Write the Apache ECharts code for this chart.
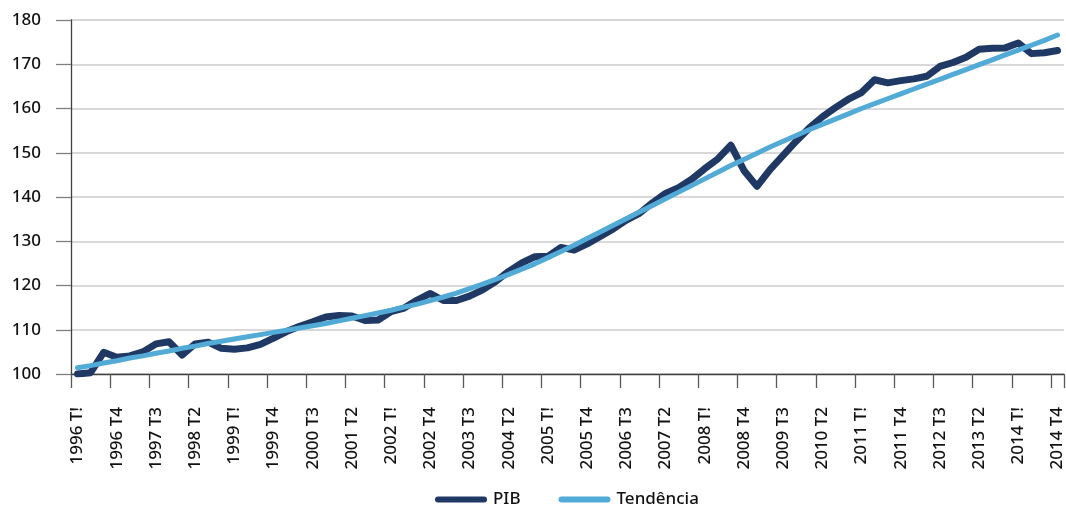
<!DOCTYPE html>
<html>
<head>
<meta charset="utf-8">
<script src="https://cdn.jsdelivr.net/npm/echarts@6/dist/echarts.min.js"></script>
<style>
  html, body { margin: 0; padding: 0; background: #ffffff; }
  #chart { width: 1066px; height: 508px; }
</style>
</head>
<body>
<div id="chart"></div>
<script>
// Category axis pieces (the original labels show "T!" for the first quarter)
const years = [1996, 1997, 1998, 1999, 2000, 2001, 2002, 2003, 2004, 2005,
               2006, 2007, 2008, 2009, 2010, 2011, 2012, 2013, 2014];
const quarterNames = ["T!", "T2", "T3", "T4"];

// PIB index (1996 T1 = 100)
const pib = [
  100.0, 100.3, 104.9, 103.8, 104.1, 105.0, 106.8, 107.3, 104.3, 106.8,
  107.2, 105.8, 105.6, 105.9, 106.7, 108.1, 109.6, 110.8, 111.8, 112.9,
  113.2, 113.1, 112.1, 112.2, 114.1, 114.9, 116.7, 118.2, 116.6, 116.6,
  117.6, 119.0, 120.9, 123.2, 125.1, 126.5, 126.6, 128.6, 128.0, 129.4,
  131.1, 132.8, 134.8, 136.3, 138.7, 140.8, 142.1, 144.0, 146.4, 148.6,
  151.7, 146.0, 142.4, 146.2, 149.4, 152.6, 155.6, 158.1, 160.2, 162.1,
  163.6, 166.5, 165.8, 166.3, 166.7, 167.3, 169.5, 170.4, 171.6, 173.4,
  173.6, 173.7, 174.8, 172.4, 172.6, 173.1
];

// Trend
const tendencia = [
  101.4, 101.9, 102.5, 103.0, 103.6, 104.1, 104.7, 105.2, 105.8, 106.3,
  106.9, 107.4, 107.9, 108.4, 108.9, 109.4, 109.9, 110.4, 110.9, 111.4,
  112.0, 112.6, 113.2, 113.8, 114.4, 115.1, 115.8, 116.6, 117.4, 118.3,
  119.3, 120.3, 121.4, 122.5, 123.7, 124.9, 126.3, 127.7, 129.1, 130.6,
  132.1, 133.6, 135.1, 136.6, 138.1, 139.6, 141.1, 142.6, 144.1, 145.6,
  147.1, 148.5, 149.9, 151.3, 152.6, 153.9, 155.2, 156.4, 157.6, 158.8,
  160.0, 161.1, 162.2, 163.3, 164.4, 165.5, 166.6, 167.7, 168.8, 169.9,
  171.0, 172.1, 173.2, 174.3, 175.4, 176.6
];

const yTicks = { min: 100, max: 180, interval: 10 };
const seriesNames = ["PIB", "Tendência"];

const categories = [];
years.forEach(function (y) {
  quarterNames.forEach(function (q) { categories.push(y + " " + q); });
});

const FONT = "'Noto Sans', 'Open Sans', sans-serif";
const TEXT_COLOR = '#111111';
const legendIcon = 'path://M3,0 H49 A3,3 0 0 1 49,6 H3 A3,3 0 0 1 3,0 Z';
const chart = echarts.init(document.getElementById('chart'), null, { renderer: 'canvas' });

chart.setOption({
  animation: false,
  backgroundColor: '#ffffff',
  textStyle: { fontFamily: FONT },
  grid: { left: 71, right: 0, top: 20, bottom: 134, containLabel: false },
  legend: {
    data: seriesNames.map(function (n) { return { name: n, icon: legendIcon }; }),
    left: 430,
    top: 486,
    itemWidth: 52,
    itemHeight: 6,
    itemGap: 38,
    textStyle: { fontFamily: FONT, fontSize: 17, fontWeight: 500, color: TEXT_COLOR, padding: [0, 0, 0, 1] }
  },
  xAxis: {
    type: 'category',
    data: categories,
    boundaryGap: true,
    axisLine: { show: true, lineStyle: { color: '#404040', width: 1.3 } },
    axisTick: { show: true, interval: 2, length: 14, lineStyle: { color: '#595959', width: 1.3 } },
    axisLabel: {
      interval: 2,
      rotate: 90,
      margin: 33,
      fontFamily: FONT,
      fontSize: 17,
      fontWeight: 500,
      color: TEXT_COLOR
    },
    splitLine: { show: false }
  },
  yAxis: {
    type: 'value',
    min: yTicks.min,
    max: yTicks.max,
    interval: yTicks.interval,
    axisLine: { show: true, lineStyle: { color: '#404040', width: 1.3 } },
    axisTick: { show: true, length: 15, lineStyle: { color: '#7f7f7f', width: 1.3 } },
    axisLabel: { margin: 30, fontFamily: FONT, fontSize: 17, fontWeight: 500, color: TEXT_COLOR },
    splitLine: { show: true, lineStyle: { color: '#d9d9d9', width: 2 } }
  },
  series: [
    {
      name: seriesNames[0],
      type: 'line',
      data: pib,
      symbol: 'none',
      color: '#1f3864',
      lineStyle: { color: '#1f3864', width: 7, cap: 'round', join: 'round' },
      z: 2
    },
    {
      name: seriesNames[1],
      type: 'line',
      data: tendencia,
      symbol: 'none',
      color: '#52aad6',
      lineStyle: { color: '#52aad6', width: 5, cap: 'round', join: 'round' },
      z: 3
    }
  ]
});
</script>
</body>
</html>
